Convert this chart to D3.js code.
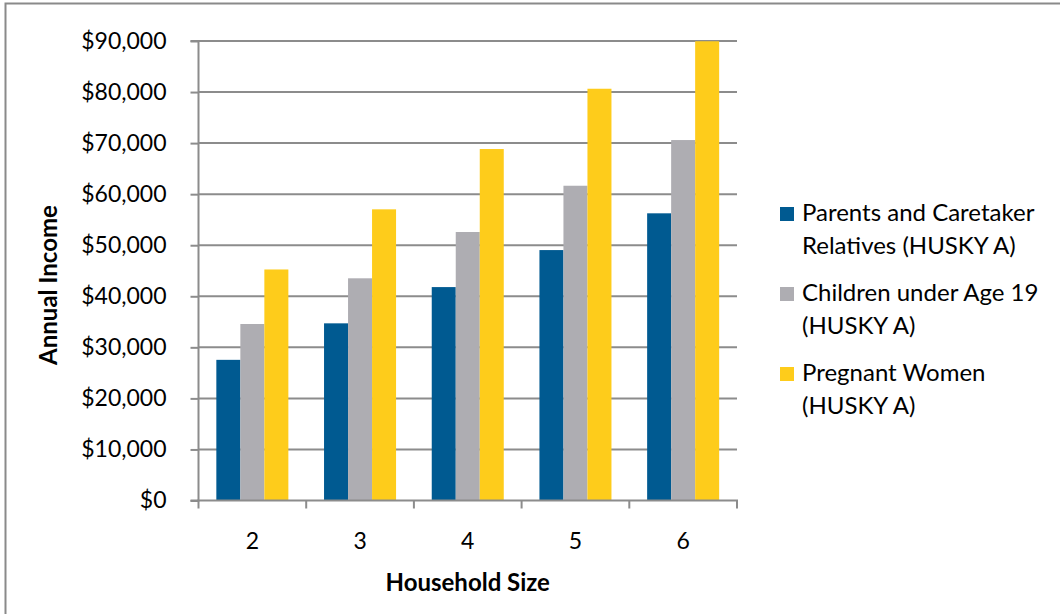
<!DOCTYPE html>
<html><head><meta charset="utf-8">
<script src="https://cdn.jsdelivr.net/npm/d3@7"></script>
<style>body{margin:0;background:#fff}svg{display:block;font-family:Lato,"Noto Sans",sans-serif}</style>
</head><body><svg id="c" width="1060" height="614"></svg>
<script>
const categories = ["2","3","4","5","6"];
const seriesNames = [["Parents and Caretaker","Relatives (HUSKY A)"],["Children under Age 19","(HUSKY A)"],["Pregnant Women","(HUSKY A)"]];
const parents = [27550, 34700, 41800, 49050, 56250];
const children = [34570, 43520, 52590, 61650, 70600];
const pregnant = [45250, 57030, 68840, 80650, 89950];
const yTicks = [0,10000,20000,30000,40000,50000,60000,70000,80000,90000];
const colors = ["#005A91","#AEADB2","#FECC1B"];

const series = [parents, children, pregnant];
const svg = d3.select("#c");
const L = 198.5, R = 737, T = 41, B = 500.5;
const x = d3.scaleBand().domain(categories).range([L, R]).paddingInner(0).paddingOuter(0);
const y = d3.scaleLinear().domain([0, 90000]).range([B, T]);
const barW = x.bandwidth() * 0.2229;

// border
svg.append("path").attr("d","M5.5,614 V3.5 H1060").attr("fill","none").attr("stroke","#8a8a8a").attr("stroke-width",2);

// gridlines
svg.append("g").selectAll("line").data(yTicks.filter(d=>d>0)).join("line")
  .attr("x1", L).attr("x2", R).attr("y1", d=>y(d)).attr("y2", d=>y(d))
  .attr("stroke","#8c8c8c").attr("stroke-width",2);

// bars
categories.forEach((c,i)=>{
  const cx = x(c) + x.bandwidth()/2;
  series.forEach((s,j)=>{
    svg.append("rect").attr("x", cx - 1.5*barW + j*barW).attr("width", barW)
      .attr("y", y(s[i])).attr("height", B - y(s[i])).attr("fill", colors[j]);
  });
});

// y axis
const yAxis = d3.axisLeft(y).tickValues(yTicks).tickSize(8).tickPadding(24)
  .tickFormat(d => "$" + d3.format(",")(d));
const gy = svg.append("g").attr("transform", `translate(${L},0)`).call(yAxis);
gy.select(".domain").attr("stroke","#8c8c8c").attr("stroke-width",2).attr("d", `M-8,${T}H0V${B}H-8`);
gy.selectAll(".tick line").attr("stroke","#8c8c8c").attr("stroke-width",2);
gy.selectAll(".tick text").attr("font-size","23px").attr("fill","#000").attr("font-family","Lato");

// x axis
const gx = svg.append("g").attr("transform", `translate(0,${B})`);
gx.append("line").attr("x1", L-1).attr("x2", R+1).attr("stroke","#8c8c8c").attr("stroke-width",2);
gx.selectAll("line.t").data(categories.map(c=>x(c)).concat([R])).join("line").attr("class","t")
  .attr("x1", d=>d).attr("x2", d=>d).attr("y1",0).attr("y2",8).attr("stroke","#8c8c8c").attr("stroke-width",2);
gx.selectAll("text").data(categories).join("text")
  .attr("x", d=>x(d)+x.bandwidth()/2).attr("y", 48).attr("text-anchor","middle")
  .attr("font-size","23px").text(d=>d);

// axis titles
svg.append("text").attr("x", (L+R)/2).attr("y", 591).attr("text-anchor","middle")
  .attr("font-size","24px").attr("font-weight","bold").text("Household Size");
svg.append("text").attr("transform","translate(57,285) rotate(-90)").attr("text-anchor","middle")
  .attr("font-size","24px").attr("font-weight","bold").text("Annual Income");

// legend
const lg = svg.append("g");
seriesNames.forEach((lines,j)=>{
  const by = 221 + j*80;
  lg.append("rect").attr("x",780).attr("y",by-14).attr("width",14).attr("height",14).attr("fill",colors[j]);
  lines.forEach((t,k)=>{
    lg.append("text").attr("x",802).attr("y",by + k*32.5).attr("font-size","24px").text(t);
  });
});
</script></body></html>
